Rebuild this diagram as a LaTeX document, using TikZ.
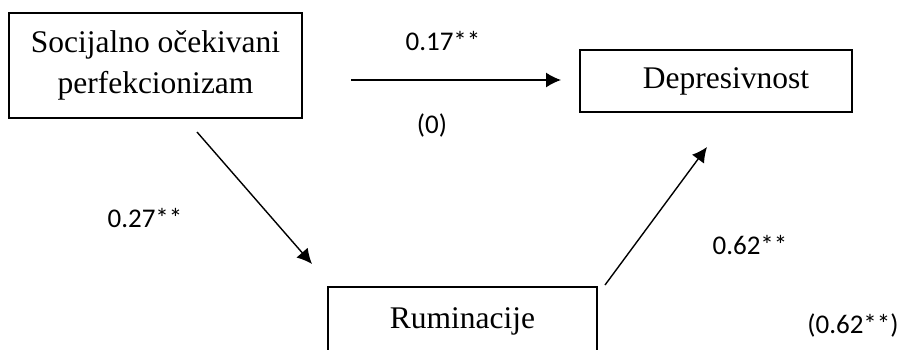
\documentclass[tikz,border=0pt]{standalone}
\usepackage{fontspec}
\setmainfont{Liberation Serif}
\newfontfamily\lblfont{Carlito}
\usetikzlibrary{arrows.meta}
\begin{document}
\begin{tikzpicture}[x=1pt,y=-1pt,
  box/.style={draw, line width=1.3pt, font=\fontsize{31.5}{41}\selectfont, align=center, inner sep=0pt},
  lbl/.style={font=\lblfont\fontsize{27}{32}\selectfont, inner sep=0pt},
  arr/.style={line width=1.4pt, -{Latex[length=15pt,width=15pt]}}]
\useasboundingbox (0,0) rectangle (902,349);
\begin{scope}
\clip (0,0) rectangle (902,349);
\node[box, minimum width=293pt, minimum height=105pt] (spp) at (155.5,65.5) {Socijalno očekivani\\perfekcionizam};
\node[box, minimum width=272pt, minimum height=62pt] (dep) at (716,81) {\hspace{20pt}Depresivnost};
\node[box, minimum width=269pt, minimum height=68pt] (rum) at (462.5,321) {Ruminacije};
\end{scope}
\coordinate (a1s) at (351,80);
\coordinate (a1e) at (561,80);
\draw[arr] (a1s) -- (a1e);
\coordinate (a2s) at (197,132);
\coordinate (a2e) at (312,264);
\draw[arr] (a2s) -- (a2e);
\coordinate (a3s) at (605,285);
\coordinate (a3e) at (707,147);
\draw[arr] (a3s) -- (a3e);
\node[lbl] (l1) at (443,41) {0.17**};
\node[lbl] (l2) at (432,125) {(0)};
\node[lbl] (l3) at (145,218) {0.27**};
\node[lbl] (l4) at (750,245) {0.62**};
\node[lbl] (l5) at (853,325) {(0.62**)};
\end{tikzpicture}
\end{document}
